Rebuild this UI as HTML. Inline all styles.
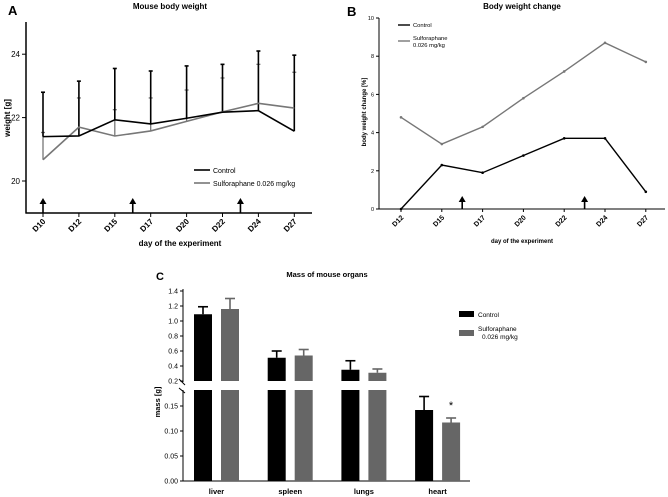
<!DOCTYPE html>
<html><head><meta charset="utf-8"><style>
html,body{margin:0;padding:0;background:#fff}
svg{display:block;font-family:"Liberation Sans",Arial,sans-serif}
</style></head><body>
<svg id="c" width="668" height="497" viewBox="0 0 668 497"></svg>
<script>
// Panel A data
const aDays=["D10","D12","D15","D17","D20","D22","D24","D27"];
const aControl=[21.4,21.42,21.93,21.8,21.98,22.17,22.22,21.57];
const aControlErr=[22.8,23.15,23.55,23.47,23.63,23.68,24.1,23.97];
const aSulf=[20.67,21.7,21.42,21.58,21.88,22.18,22.45,22.3];
const aSulfErr=[21.53,22.62,22.25,22.62,22.87,23.25,23.68,23.43];
const aTicks=[20,22,24];
const aArrowsIdx=[0,2.5,5.5];
// Panel B data
const bDays=["D12","D15","D17","D20","D22","D24","D27"];
const bControl=[0,2.3,1.9,2.8,3.7,3.7,0.9];
const bSulf=[4.8,3.4,4.3,5.8,7.2,8.7,7.7];
const bTicks=[0,2,4,6,8,10];
const bArrowsIdx=[1.5,4.5];
// Panel C data
const cOrgans=["liver","spleen","lungs","heart"];
const cControl=[1.09,0.51,0.35,0.142];
const cControlErr=[1.19,0.6,0.47,0.169];
const cSulf=[1.16,0.54,0.31,0.117];
const cSulfErr=[1.3,0.62,0.36,0.126];
const cTicksUpper=[0.2,0.4,0.6,0.8,1.0,1.2,1.4];
const cTicksLower=[0.00,0.05,0.10,0.15];

const svg=document.getElementById('c');
const NS='http://www.w3.org/2000/svg';
function el(tag,attrs,name,text){
  const e=document.createElementNS(NS,tag);
  for(const k in attrs)e.setAttribute(k,attrs[k]);
  
  
  if(text!==undefined)e.textContent=text;
  svg.appendChild(e);return e;
}
function line(x1,y1,x2,y2,stroke,w,name){return el('line',{x1,y1,x2,y2,stroke,'stroke-width':w},name);}
function txt(x,y,s,size,name,extra){return el('text',Object.assign({x,y,'font-size':size,fill:'#000'},extra||{}),name,s);}
function arrow(x,yb,yt,name){line(x,yb,x,yt+4,'#000',1.6,name+'-shaft');el('polygon',{points:`${x-3.5},${yt+6} ${x+3.5},${yt+6} ${x},${yt}`,fill:'#000'},name+'-head');}

// ---------- Panel A ----------
const ax=i=>43+i*35.9, ay=v=>181-(v-20)*31.7;
txt(8,15,"A",13,"panel-a-label",{'font-weight':'bold'});
txt(170,9,"Mouse body weight",8,"panel-a-title",{'font-weight':'bold','text-anchor':'middle'});
line(26,22,26,213.5,'#000',1.5,"a-y-axis");
line(25.5,213,312,213,'#000',1.5,"a-x-axis");
aTicks.forEach(t=>{line(22,ay(t),26,ay(t),'#000',1,"a-y-tick");txt(20,ay(t)+3,String(t),8,"a-y-tick-label",{'text-anchor':'end'});});
aDays.forEach((d,i)=>{line(ax(i),213,ax(i),217,'#000',1,"a-x-tick");txt(ax(i)+3,222,d,8,"a-x-tick-label",{'text-anchor':'end','font-weight':'bold',transform:`rotate(-45 ${ax(i)+3} 222)`});});
txt(180,246,"day of the experiment",8,"a-x-axis-title",{'font-weight':'bold','text-anchor':'middle'});
txt(10,118,"weight [g]",8,"a-y-axis-title",{'font-weight':'bold','text-anchor':'middle',transform:'rotate(-90 10 118)'});
aDays.forEach((d,i)=>{const x=ax(i);line(x,ay(aSulf[i]),x,ay(aSulfErr[i]),'#777',1.3,"a-sulf-errorbar");line(x-2,ay(aSulfErr[i]),x+2,ay(aSulfErr[i]),'#777',1.3,"a-sulf-errorcap");});
aDays.forEach((d,i)=>{const x=ax(i);line(x,ay(aControl[i]),x,ay(aControlErr[i]),'#000',1.6,"a-control-errorbar");line(x-2,ay(aControlErr[i]),x+2,ay(aControlErr[i]),'#000',1.6,"a-control-errorcap");});
el('polyline',{points:aSulf.map((v,i)=>ax(i)+','+ay(v)).join(' '),fill:'none',stroke:'#777','stroke-width':1.6},"a-sulforaphane-line");
el('polyline',{points:aControl.map((v,i)=>ax(i)+','+ay(v)).join(' '),fill:'none',stroke:'#000','stroke-width':1.6},"a-control-line");
aArrowsIdx.forEach(k=>arrow(ax(k),213,198,"a-treatment-arrow"));
line(194,170,210,170,'#000',1.6,"a-legend-control-swatch");txt(213,173,"Control",7,"a-legend-control-label");
line(194,183,210,183,'#777',1.6,"a-legend-sulf-swatch");txt(213,186,"Sulforaphane 0.026 mg/kg",7,"a-legend-sulf-label");

// ---------- Panel B ----------
const bx=i=>401+i*40.8, by=v=>209-v*19.1;
txt(347,16,"B",13,"panel-b-label",{'font-weight':'bold'});
txt(522,9,"Body weight change",8,"panel-b-title",{'font-weight':'bold','text-anchor':'middle'});
line(379,18,379,209.5,'#000',1,"b-y-axis");
line(378.5,209,665,209,'#000',1,"b-x-axis");
bTicks.forEach(t=>{line(376,by(t),379,by(t),'#000',1,"b-y-tick");txt(374,by(t)+2,String(t),5.5,"b-y-tick-label",{'text-anchor':'end'});});
bDays.forEach((d,i)=>{line(bx(i),209,bx(i),212,'#000',1,"b-x-tick");txt(bx(i)+3,218,d,7,"b-x-tick-label",{'text-anchor':'end','font-weight':'bold',transform:`rotate(-45 ${bx(i)+3} 218)`});});
txt(522,243,"day of the experiment",6,"b-x-axis-title",{'font-weight':'bold','text-anchor':'middle'});
txt(366,112,"body weight change [%]",6,"b-y-axis-title",{'font-weight':'bold','text-anchor':'middle',transform:'rotate(-90 366 112)'});
el('polyline',{points:bSulf.map((v,i)=>bx(i)+','+by(v)).join(' '),fill:'none',stroke:'#777','stroke-width':1.4},"b-sulforaphane-line");
el('polyline',{points:bControl.map((v,i)=>bx(i)+','+by(v)).join(' '),fill:'none',stroke:'#000','stroke-width':1.4},"b-control-line");
bSulf.forEach((v,i)=>el('circle',{cx:bx(i),cy:by(v),r:1.3,fill:'#777'},"b-sulf-point"));
bControl.forEach((v,i)=>el('circle',{cx:bx(i),cy:by(v),r:1.3,fill:'#000'},"b-control-point"));
bArrowsIdx.forEach(k=>arrow(bx(k),209,196,"b-treatment-arrow"));
line(398,25,410,25,'#000',1.4,"b-legend-control-swatch");txt(413,27,"Control",5.8,"b-legend-control-label");
line(398,41,410,41,'#777',1.4,"b-legend-sulf-swatch");txt(413,40,"Sulforaphane",5.8,"b-legend-sulf-label");txt(413,47,"0.026 mg/kg",5.8,"b-legend-sulf-label-2");

// ---------- Panel C ----------
const cyU=v=>381-(v-0.2)*75, cyL=v=>481-v*500;
const cy=v=>v>=0.2?cyU(v):Math.max(cyL(v),390);
const cx=i=>194+i*73.7;
txt(156,280,"C",11,"panel-c-label",{'font-weight':'bold'});
txt(327,277,"Mass of mouse organs",7.5,"panel-c-title",{'font-weight':'bold','text-anchor':'middle'});
line(183,289,183,382,'#000',1,"c-y-axis-upper");
line(183,390,183,481.5,'#000',1,"c-y-axis-lower");
line(179,379,185,385,'#000',1,"c-axis-break-1");line(179,388,185,393,'#000',1,"c-axis-break-2");
line(182.5,481,470,481,'#000',1,"c-x-axis");
cTicksUpper.forEach(t=>{line(180,cyU(t),183,cyU(t),'#000',1,"c-y-tick");txt(178,cyU(t)+2.5,t.toFixed(1),7,"c-y-tick-label",{'text-anchor':'end'});});
cTicksLower.forEach(t=>{line(180,cyL(t),183,cyL(t),'#000',1,"c-y-tick");txt(178,cyL(t)+2.5,t.toFixed(2),7,"c-y-tick-label",{'text-anchor':'end'});});
txt(160,402,"mass [g]",7.5,"c-y-axis-title",{'font-weight':'bold','text-anchor':'middle',transform:'rotate(-90 160 402)'});
function bar(x,v,e,col,name){
  if(v>=0.2){el('rect',{x,y:cyU(v),width:18,height:381-cyU(v),fill:col},name+'-upper');el('rect',{x,y:390,width:18,height:91,fill:col},name+'-lower');}
  else el('rect',{x,y:cyL(v),width:18,height:481-cyL(v),fill:col},name);
  line(x+9,cy(v),x+9,cy(e),col,1.6,name+'-errorbar');line(x+4,cy(e),x+14,cy(e),col,1.6,name+'-errorcap');
}
cOrgans.forEach((o,i)=>{
  bar(cx(i),cControl[i],cControlErr[i],'#000',"c-control-bar-"+o);
  bar(cx(i)+27,cSulf[i],cSulfErr[i],'#666',"c-sulf-bar-"+o);
  txt(cx(i)+22.5,494,o,7.5,"c-x-tick-label",{'font-weight':'bold','text-anchor':'middle'});
});
txt(451,409,"*",11,"c-significance-star",{'text-anchor':'middle'});
el('rect',{x:459,y:311,width:15,height:6,fill:'#000'},"c-legend-control-swatch");txt(478,317,"Control",6.5,"c-legend-control-label");
el('rect',{x:459,y:330,width:15,height:6,fill:'#666'},"c-legend-sulf-swatch");txt(478,331,"Sulforaphane",6.5,"c-legend-sulf-label");txt(482,339,"0.026 mg/kg",6.5,"c-legend-sulf-label-2");
</script>
</body></html>
